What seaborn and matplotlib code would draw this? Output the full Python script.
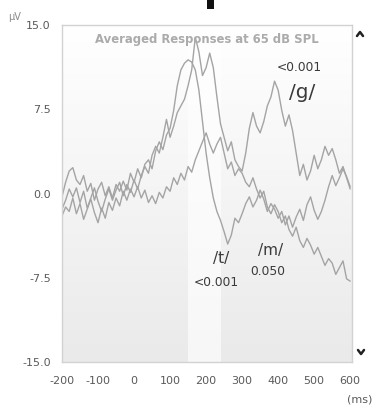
import numpy as np
import pandas as pd
import matplotlib
matplotlib.use("Agg")
import matplotlib.pyplot as plt
from matplotlib.colors import LinearSegmentedColormap
from matplotlib.lines import Line2D
from matplotlib.patches import Rectangle
import seaborn as sns

# Latency axis (ms), sampled every 10 ms
time_ms = list(range(-200, 601, 10))

# Grand-averaged cortical responses (µV) for each stimulus
resp_t = [-0.3, 1.0, 2.0, 2.3, 1.2, 0.8, 1.6, 0.2, 0.9, -0.6,
          0.4, 1.0, -0.2, 0.6, -0.4, 0.8, 0.2, 1.1, 0.3, 1.8,
          1.0, 2.2, 1.4, 2.6, 3.0, 2.2, 3.8, 4.6, 3.9, 5.2,
          5.8, 7.4, 9.6, 11.0, 11.6, 11.9, 11.7, 11.0, 9.2, 6.4,
          3.6, 1.4, -0.4, -1.6, -2.4, -3.4, -4.5, -3.7, -2.2, -2.6,
          -1.8, -0.9, -0.3, -1.2, -0.6, 0.3, -0.5, -1.6, -0.9, -1.4,
          -2.2, -1.6, -2.8, -2.0, -3.0, -2.1, -1.4, -2.4, -1.0, -0.3,
          -1.5, -2.3, -1.6, -0.6, 0.6, 1.6, 0.7, 1.4, 2.2, 1.5,
          0.6]
resp_g = [-1.4, -0.6, 0.4, -0.3, 0.5, -0.8, 0.2, -1.3, -0.4, 0.5,
          -0.7, -1.6, -0.5, 0.4, -0.6, 0.3, 1.0, -0.2, 0.8, 0.1,
          1.2, 0.4, 1.6, 2.4, 1.8, 3.4, 4.2, 3.6, 5.0, 6.6,
          5.0, 6.0, 7.2, 7.8, 8.4, 9.6, 11.0, 13.9, 12.6, 10.5,
          11.2, 12.5, 11.2, 8.6, 6.2, 5.0, 3.8, 4.6, 3.0, 2.4,
          2.0, 3.6, 5.8, 7.2, 6.0, 5.4, 6.4, 7.8, 8.6, 10.0,
          9.2, 7.4, 6.0, 7.0, 5.6, 3.6, 1.6, 2.6, 1.2, 2.0,
          3.4, 2.2, 3.0, 4.2, 3.4, 4.0, 3.0, 1.8, 2.4, 1.4,
          0.4]
resp_m = [-2.0, -1.2, -1.6, -0.4, -1.8, -0.9, -2.3, -1.4, -0.5, -1.7,
          -2.6, -1.3, -2.2, -0.8, -1.5, -0.4, -1.1, 0.2, -0.6, 0.4,
          -0.3, 0.6, -0.4, 0.3, -0.8, -0.2, -0.9, 0.1, -0.4, 0.6,
          0.2, 1.4, 0.8, 1.8, 1.2, 2.4, 1.9, 3.0, 3.8, 4.6,
          5.4, 4.4, 3.6, 4.4, 5.0, 3.6, 2.2, 2.8, 1.6, 2.2,
          1.8, 1.0, 0.6, 1.4, 0.4, -0.4, 0.2, -1.2, -1.8, -1.0,
          -1.6, -2.6, -2.0, -3.2, -3.8, -3.0, -4.2, -4.8, -4.0, -4.6,
          -5.4, -4.8, -5.6, -6.4, -5.8, -6.2, -7.2, -6.6, -6.0, -7.6,
          -7.8]

stimuli = ["/t/", "/g/", "/m/"]
x_ticks = [-200, -100, 0, 100, 200, 300, 400, 500, 600]
y_ticks = [-15.0, -7.5, 0.0, 7.5, 15.0]
title_text = "Averaged Responses at 65 dB SPL"

# Stimulus labels with their p-values: (label, p, label_x, label_y, p_x, p_y)
labels = [("/g/", "<0.001", 467, 9.0, 458, 11.2),
          ("/t/", "<0.001", 242, -5.8, 228, -7.9),
          ("/m/", "0.050", 378, -5.1, 372, -6.9)]

df = pd.DataFrame({
    "time": time_ms * 3,
    "amp": resp_t + resp_g + resp_m,
    "stim": [s for s, r in zip(stimuli, [resp_t, resp_g, resp_m]) for _ in r],
})

sns.set_style("white")
plt.rcParams["font.family"] = ["DejaVu Sans"]
plt.rcParams["axes.unicode_minus"] = False

W, H = 373, 408
fig = plt.figure(figsize=(W / 100, H / 100), dpi=100)
ax = fig.add_axes([62 / W, 1 - 362 / H, 290 / W, 337 / H])

xlim = (-200, 605)
ylim = (-15, 15)

# soft vertical background gradient: near white at the top, light grey below
grad = np.linspace(0, 1, 256).reshape(-1, 1)
cmap = LinearSegmentedColormap.from_list("bg", ["#ffffff", "#eaeaea"])
ax.imshow(grad, extent=[xlim[0], xlim[1], ylim[0], ylim[1]], aspect="auto",
          cmap=cmap, zorder=0, origin="upper")
ax.axvspan(150, 240, color="white", alpha=0.65, lw=0, zorder=0.5)

sns.lineplot(data=df, x="time", y="amp", hue="stim", ax=ax,
             palette={s: "#a4a4a4" for s in stimuli}, lw=1.0,
             legend=False, zorder=2)

ax.set_xlim(*xlim)
ax.set_ylim(*ylim)
ax.set_xticks(x_ticks)
ax.set_yticks(y_ticks)
ax.set_yticklabels([f"{v:.1f}" for v in y_ticks])
ax.set_xlabel("")
ax.set_ylabel("")
for sp in ax.spines.values():
    sp.set_color("#d2d2d2")
    sp.set_linewidth(1.0)
ax.tick_params(axis="both", direction="out", length=4, width=1,
               color="#c8c8c8", labelcolor="#5a5a5a", labelsize=8)
ax.tick_params(axis="x", pad=6)
ax.tick_params(axis="y", pad=4)

ax.text(0.5, 0.975, title_text, transform=ax.transAxes, ha="center",
        va="top", fontsize=8.4, fontweight="bold", color="#ababab", zorder=3)

for lab, p, lx, ly, px, py in labels:
    big = 14.5 if lab == "/g/" else 11
    ax.text(lx, ly, lab, ha="center", va="center", fontsize=big,
            color="#3a3a3a", zorder=3)
    ax.text(px, py, p, ha="center", va="center", fontsize=8.8,
            color="#3a3a3a", zorder=3)

fig.text(8 / W, 1 - 17 / H, "µV", fontsize=7, color="#8a8a8a",
         ha="left", va="center")
fig.text(372 / W, 1 - 400 / H, "(ms)", fontsize=8, color="#5a5a5a",
         ha="right", va="center")

# scroll chevrons beside the plot
up = Line2D([357 / W, 360 / W, 363 / W],
            [1 - 36 / H, 1 - 32 / H, 1 - 36 / H],
            transform=fig.transFigure, color="#222222", lw=1.8)
down = Line2D([358 / W, 361 / W, 364 / W],
              [1 - 350 / H, 1 - 354 / H, 1 - 350 / H],
              transform=fig.transFigure, color="#222222", lw=1.8)
fig.add_artist(up)
fig.add_artist(down)
fig.add_artist(Rectangle((207 / W, 1 - 9 / H), 7 / W, 9 / H,
                         transform=fig.transFigure, color="#111111", lw=0))

fig.savefig("out.png", dpi=100)
